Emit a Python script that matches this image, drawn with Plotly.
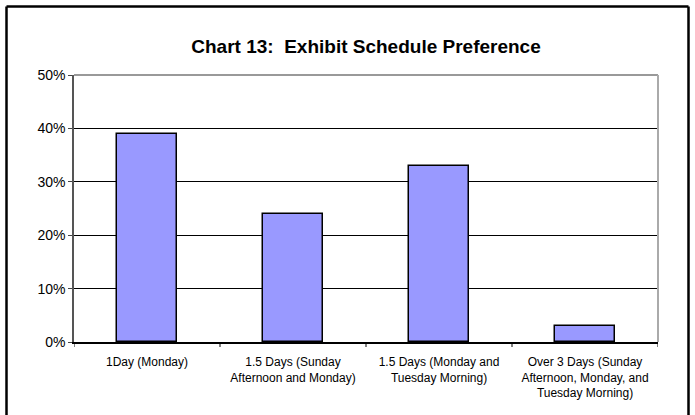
import plotly.graph_objects as go

categories = ["1Day (Monday)",
              "1.5 Days (Sunday<br>Afternoon and Monday)",
              "1.5 Days (Monday and<br>Tuesday Morning)",
              "Over 3 Days (Sunday<br>Afternoon, Monday, and<br>Tuesday Morning)"]
values = [0.39, 0.24, 0.33, 0.03]
yticks = [0, 0.1, 0.2, 0.3, 0.4, 0.5]
ytick_labels = ["0%", "10%", "20%", "30%", "40%", "50%"]

W, H = 695, 415
L, R, T, B = 74, 37, 75, 73
pw, ph = W - L - R, H - T - B

def px(x):
    return (x - L) / pw

def py(y):
    return (H - B - y) / ph

fig = go.Figure()
fig.add_trace(go.Bar(
    x=list(range(4)), y=values, width=0.405,
    marker=dict(color="#9999FF", line=dict(color="black", width=1.5)),
))

fig.update_layout(
    width=W, height=H,
    margin=dict(l=L, r=R, t=T, b=B),
    paper_bgcolor="white", plot_bgcolor="white",
    font=dict(family="Liberation Sans, Arial, sans-serif", color="black"),
    title=dict(text="<b>Chart 13:  Exhibit Schedule Preference</b>",
               x=0.5, xanchor="center", xref="paper",
               y=1 - 46 / H, yanchor="middle",
               font=dict(size=19, color="black")),
    showlegend=False,
    bargap=0,
    xaxis=dict(
        range=[-0.5, 3.5],
        tickmode="array",
        tickvals=list(range(4)),
        ticktext=categories,
        ticks="",
        ticklabelstandoff=8,
        showgrid=False,
        showline=True, linecolor="black", linewidth=1.5,
        tickfont=dict(size=12),
        zeroline=False,
    ),
    yaxis=dict(
        range=[0, 0.5],
        tickmode="array",
        tickvals=yticks,
        ticktext=ytick_labels,
        ticks="outside", ticklen=4, tickcolor="#444444", tickwidth=1,
        showgrid=True, gridcolor="black", gridwidth=1,
        showline=True, linecolor="#555555", linewidth=1.5,
        tickfont=dict(size=14),
        zeroline=False,
    ),
)

shapes = []
# category separator ticks on x axis
for b in [-0.5, 0.5, 1.5, 2.5, 3.5]:
    shapes.append(dict(type="line", xref="x", yref="paper", x0=b, x1=b,
                       y0=0, y1=-5 / ph, line=dict(color="black", width=1)))
# plot area border (top and right) gray
shapes.append(dict(type="line", xref="paper", yref="paper", x0=0, x1=1, y0=1, y1=1,
                   line=dict(color="#999999", width=2)))
shapes.append(dict(type="line", xref="paper", yref="paper", x0=1, x1=1, y0=0, y1=1,
                   line=dict(color="#aaaaaa", width=2)))
# outer chart border
bx0, bx1, by0 = px(6.5), px(688.5), py(6.5)
byb = py(420)
for (x0, y0, x1, y1) in [(bx0, by0, bx1, by0), (bx0, by0, bx0, byb), (bx1, by0, bx1, byb)]:
    shapes.append(dict(type="line", xref="paper", yref="paper", x0=x0, y0=y0, x1=x1, y1=y1,
                       line=dict(color="black", width=2.5)))
fig.update_layout(shapes=shapes)

fig.write_html("out.html")
